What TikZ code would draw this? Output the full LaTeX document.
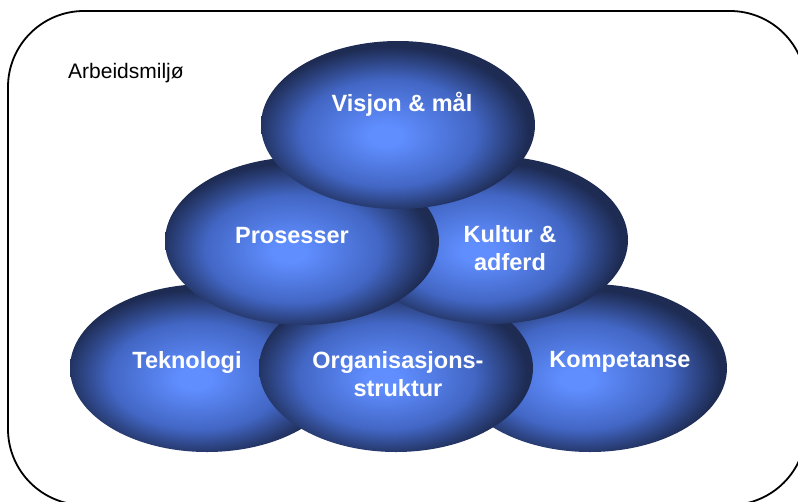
\documentclass[tikz,border=0pt]{standalone}
\usepackage{fontspec}
\setmainfont{Liberation Sans}
\usepackage{tikz}
\usetikzlibrary{shapes,positioning,calc}
\definecolor{orbin}{RGB}{96,142,255}
\definecolor{orbmid}{RGB}{66,102,196}
\definecolor{orbout}{RGB}{30,44,84}
\pgfdeclareradialshading{orbshade}{\pgfpoint{-2.5bp}{-3.5bp}}{color(0bp)=(orbin); color(3bp)=(orbin); color(16bp)=(orbmid); color(25bp)=(orbout); color(50bp)=(orbout)}

\begin{document}
\begin{tikzpicture}[x=1pt, y=-1pt,
    orb/.style={ellipse, minimum width=274pt, minimum height=168pt, inner sep=0pt, shading=orbshade},
    lbl/.style={text=white, font=\bfseries\fontsize{23.5}{28}\selectfont, align=center, inner sep=0pt},
    frame/.style={draw, line width=1.8pt, rounded corners=76pt}
]

\useasboundingbox (0,0) rectangle (798,501);
\clip (0,0) rectangle (798,501);
\draw[frame] (8,11) rectangle (806,505);
\node[anchor=base west, inner sep=0pt, font=\fontsize{21}{25}\selectfont] (env) at (68,78) {Arbeidsmiljø};

\node[orb] (komp) at (590,368) {};
\node[orb] (tekn) at (207,368) {};
\node[orb] (org) at (396,368) {};
\node[orb] (kult) at (491,240) {};
\node[orb] (pros) at (302,241) {};
\node[orb] (visj) at (398,125) {};

\node[lbl, anchor=base] (visjtxt) at ($(visj)+(4,-14)$) {Visjon \& mål};
\node[lbl, anchor=base] (prostxt) at ($(pros)+(-10,2)$) {Prosesser};
\node[lbl] (kulttxt) at ($(kult)+(19,8)$) {Kultur \&\\adferd};
\node[lbl, anchor=base] (tekntxt) at ($(tekn)+(-20,0)$) {Teknologi};
\node[lbl] (orgtxt) at ($(org)+(2,6)$) {Organisasjons-\\struktur};
\node[lbl, anchor=base] (komptxt) at ($(komp)+(30,-1)$) {Kompetanse};

\end{tikzpicture}
\end{document}
